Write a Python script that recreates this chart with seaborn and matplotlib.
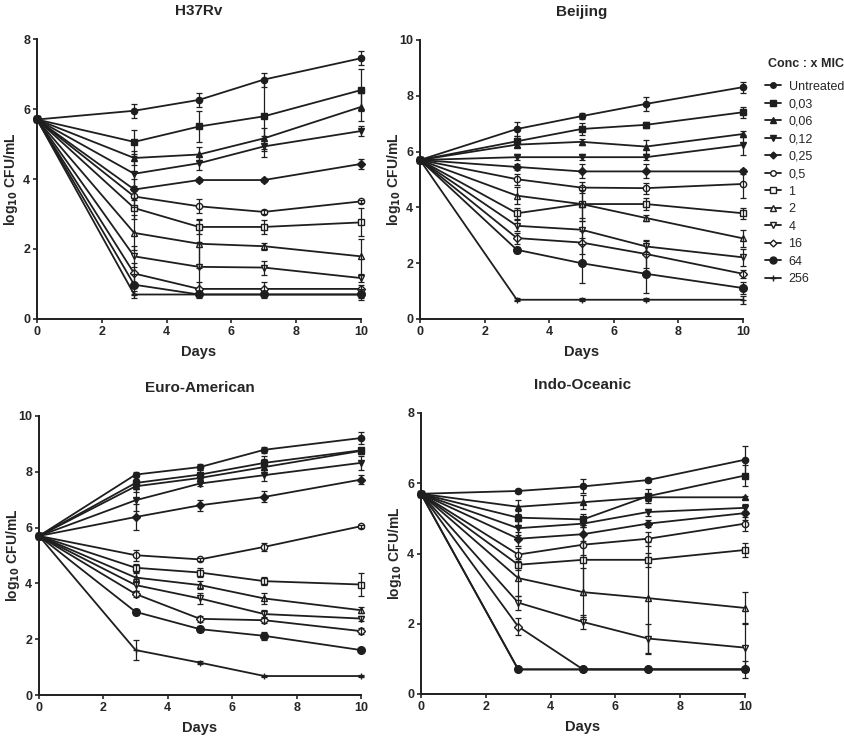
import numpy as np
import pandas as pd
import seaborn as sns
import matplotlib.pyplot as plt
from matplotlib.lines import Line2D

sns.set_style('ticks')
plt.rcParams['font.family'] = ['Liberation Sans', 'DejaVu Sans']
plt.rcParams['mathtext.default'] = 'bf'

days = [0, 3, 5, 7, 10]
conc = ['Untreated', '0,03', '0,06', '0,12', '0,25', '0,5', '1', '2', '4', '16', '64', '256']
start = 5.7

# mean log10 CFU/mL at days 3, 5, 7, 10 (day 0 = start)
h37rv = [
    [5.95, 6.26, 6.84, 7.45],
    [5.06, 5.50, 5.79, 6.54],
    [4.60, 4.70, 5.16, 6.06],
    [4.15, 4.45, 4.93, 5.37],
    [3.70, 3.97, 3.97, 4.43],
    [3.50, 3.22, 3.06, 3.36],
    [3.17, 2.63, 2.63, 2.76],
    [2.46, 2.15, 2.08, 1.79],
    [1.79, 1.49, 1.47, 1.17],
    [1.30, 0.86, 0.86, 0.86],
    [0.98, 0.70, 0.70, 0.70],
    [0.70, 0.70, 0.70, 0.70],
]
h37rv_sd = [
    [0.2, 0.2, 0.2, 0.2],
    [0.35, 0.45, 1.0, 0.6],
    [0.2, 0.2, 0.3, 0.4],
    [0.5, 0.2, 0.3, 0.15],
    [0.3, 0.05, 0.05, 0.15],
    [0.3, 0.2, 0.05, 0.05],
    [0.3, 0.2, 0.2, 0.4],
    [0.5, 0.7, 0.1, 0.5],
    [0.3, 0.7, 0.2, 0.1],
    [0.3, 0.2, 0.2, 0.1],
    [0.3, 0.1, 0.1, 0.1],
    [0.1, 0.05, 0.05, 0.15],
]

beijing = [
    [6.81, 7.27, 7.71, 8.31],
    [6.37, 6.81, 6.96, 7.41],
    [6.25, 6.35, 6.18, 6.63],
    [5.80, 5.80, 5.80, 6.24],
    [5.45, 5.29, 5.29, 5.29],
    [5.01, 4.71, 4.69, 4.84],
    [3.79, 4.12, 4.12, 3.79],
    [4.42, 4.12, 3.62, 2.89],
    [3.34, 3.20, 2.60, 2.21],
    [2.90, 2.74, 2.33, 1.62],
    [2.48, 2.00, 1.62, 1.11],
    [0.69, 0.69, 0.69, 0.69],
]
beijing_sd = [
    [0.25, 0.1, 0.25, 0.2],
    [0.2, 0.2, 0.1, 0.2],
    [0.1, 0.1, 0.25, 0.1],
    [0.1, 0.1, 0.1, 0.35],
    [0.1, 0.25, 0.25, 0.1],
    [0.2, 0.2, 0.2, 0.5],
    [0.2, 0.5, 0.2, 0.2],
    [0.3, 0.6, 0.1, 0.3],
    [0.2, 0.3, 0.2, 0.3],
    [0.2, 0.4, 0.5, 0.15],
    [0.1, 0.7, 0.7, 0.2],
    [0.05, 0.05, 0.05, 0.15],
]

euro = [
    [7.90, 8.17, 8.79, 9.21],
    [7.60, 7.90, 8.32, 8.77],
    [7.48, 7.78, 8.17, 8.75],
    [6.98, 7.58, 7.88, 8.32],
    [6.38, 6.80, 7.10, 7.72],
    [5.01, 4.86, 5.31, 6.05],
    [4.56, 4.39, 4.08, 3.96],
    [4.21, 3.94, 3.46, 3.04],
    [3.94, 3.46, 2.90, 2.74],
    [3.62, 2.73, 2.68, 2.29],
    [2.98, 2.36, 2.12, 1.61],
    [1.61, 1.16, 0.68, 0.68],
]
euro_sd = [
    [0.1, 0.1, 0.1, 0.2],
    [0.15, 0.15, 0.25, 0.1],
    [0.2, 0.1, 0.3, 0.1],
    [0.4, 0.1, 0.2, 0.25],
    [0.45, 0.2, 0.2, 0.15],
    [0.2, 0.05, 0.15, 0.05],
    [0.15, 0.15, 0.15, 0.4],
    [0.15, 0.15, 0.2, 0.1],
    [0.2, 0.2, 0.15, 0.1],
    [0.1, 0.1, 0.1, 0.1],
    [0.1, 0.1, 0.15, 0.05],
    [0.35, 0.05, 0.05, 0.05],
]

indo = [
    [5.78, 5.91, 6.09, 6.67],
    [5.02, 4.97, 5.63, 6.22],
    [5.33, 5.46, 5.60, 5.60],
    [4.72, 4.85, 5.18, 5.30],
    [4.42, 4.55, 4.85, 5.15],
    [3.97, 4.25, 4.42, 4.85],
    [3.68, 3.82, 3.82, 4.10],
    [3.30, 2.90, 2.73, 2.45],
    [2.60, 2.05, 1.58, 1.32],
    [1.92, 0.70, 0.70, 0.70],
    [0.70, 0.70, 0.70, 0.70],
    [0.70, 0.70, 0.70, 0.70],
]
indo_sd = [
    [0.05, 0.2, 0.05, 0.4],
    [0.2, 0.15, 0.2, 0.3],
    [0.2, 0.2, 0.1, 0.05],
    [0.2, 0.1, 0.1, 0.1],
    [0.2, 0.2, 0.1, 0.2],
    [0.2, 0.3, 0.2, 0.2],
    [0.15, 1.0, 0.2, 0.2],
    [0.5, 0.7, 1.6, 0.45],
    [0.2, 0.2, 0.4, 0.7],
    [0.25, 0.05, 0.05, 0.05],
    [0.05, 0.05, 0.05, 0.25],
    [0.05, 0.05, 0.05, 0.05],
]

# 'P' is swapped for a thin '+' after drawing (seaborn won't mix filled/line markers)
markers = ['o', 's', '^', 'v', 'D', 'o', 's', '^', 'v', 'D', 'o', 'P']
open_marker = [False] * 5 + [True] * 5 + [False, False]
msizes = [4.5, 4.5, 4.5, 4.5, 4, 4.5, 4.5, 4.5, 4.5, 4, 5.5, 5]
ink = '#1e1e1e'

panels = [
    ('H37Rv', h37rv, h37rv_sd, 8, [37, 39, 324, 280]),
    ('Beijing', beijing, beijing_sd, 10, [420, 40, 323, 279]),
    ('Euro-American', euro, euro_sd, 10, [39, 416, 322, 279]),
    ('Indo-Oceanic', indo, indo_sd, 8, [421, 413, 324, 281]),
]
W, H = 844, 741

fig = plt.figure(figsize=(W / 100, H / 100), dpi=100)

for title, vals, sds, ymax, (px, py, pw, ph) in panels:
    ax = fig.add_axes([px / W, 1 - (py + ph) / H, pw / W, ph / H])
    rows = []
    for c, v, s in zip(conc, vals, sds):
        for d, y, e in zip(days, [start] + v, [0] + s):
            rows.append((c, d, y, e))
    df = pd.DataFrame(rows, columns=['conc', 'day', 'cfu', 'sd'])

    sns.lineplot(data=df, x='day', y='cfu', hue='conc', style='conc',
                 hue_order=conc, style_order=conc,
                 palette=[ink] * len(conc), markers=dict(zip(conc, markers)),
                 dashes=False, legend=False, linewidth=1.3, ax=ax, clip_on=False)
    for line, m, op, ms in zip(ax.lines, markers, open_marker, msizes):
        if m == 'P':
            line.set_marker('+')
        line.set_markersize(ms)
        line.set_markeredgecolor(ink)
        line.set_markeredgewidth(1.0)
        if op:
            line.set_markerfacecolor('white')
    ax.errorbar(df['day'], df['cfu'], yerr=df['sd'], fmt='none', ecolor=ink,
                elinewidth=0.9, capsize=2.5, capthick=0.9, clip_on=False)

    ax.set_xlim(0, 10)
    ax.set_ylim(0, ymax)
    ax.set_xticks(range(0, 11, 2))
    ax.set_yticks(range(0, ymax + 1, 2))
    ax.tick_params(labelsize=9, length=3, width=1.2, pad=2)
    for lab in ax.get_xticklabels() + ax.get_yticklabels():
        lab.set_fontweight('bold')
    for sp in ['left', 'bottom']:
        ax.spines[sp].set_linewidth(1.4)
        ax.spines[sp].set_color(ink)
    sns.despine(ax=ax)
    ax.set_title(title, fontsize=11, fontweight='bold', pad=17.5)
    ax.set_xlabel('Days', fontsize=10.5, fontweight='bold', labelpad=5)
    ax.set_ylabel(r'log$_{10}$ CFU/mL', fontsize=10, fontweight='bold')
    ax.yaxis.set_label_coords(-17 / pw, 0.5)

handles = []
for m, op, ms in zip(markers, open_marker, msizes):
    handles.append(Line2D([], [], color=ink, marker='+' if m == 'P' else m,
                          markersize=ms - 0.5,
                          markerfacecolor='white' if op else ink,
                          markeredgecolor=ink, linewidth=1.3))
fig.text(768 / W, 1 - 64 / H, 'Conc : x MIC', fontsize=9, fontweight='bold',
         ha='left', va='center')
fig.legend(handles, conc, loc='upper left',
           bbox_to_anchor=(756 / W, 1 - 72 / H), frameon=False,
           handlelength=1.3, handletextpad=0.6, labelspacing=0.44,
           fontsize=9, borderpad=0.2)

fig.savefig('out.png', dpi=100)
